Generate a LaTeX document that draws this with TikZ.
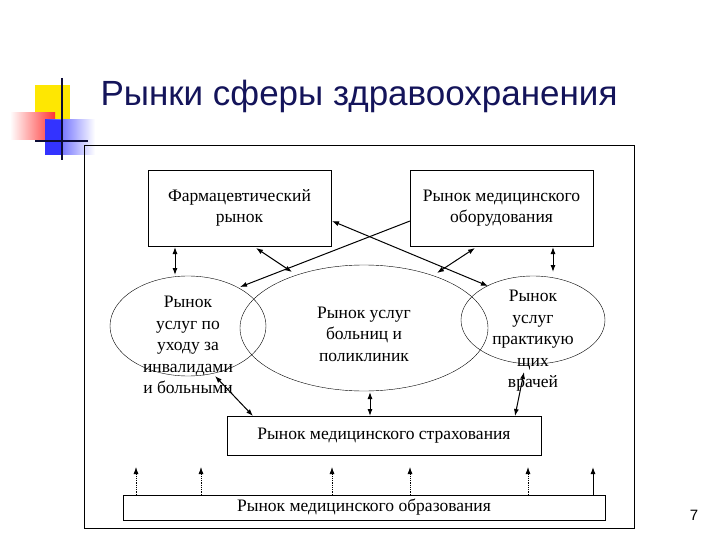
\documentclass[tikz,border=0pt]{standalone}
\usepackage{fontspec}
\setmainfont{Liberation Serif}
\newfontfamily\titlefont{Liberation Sans}
\usetikzlibrary{arrows.meta,shapes.geometric}
\definecolor{navy}{RGB}{20,20,90}
\begin{document}
\begin{tikzpicture}[x=1pt,y=-1pt,
  box/.style={draw,thin,inner sep=0pt},
  ell/.style={draw,thin,ellipse,inner sep=0pt},
  txt/.style={font=\fontsize{17.5}{21.5}\selectfont,align=center},
  dbl/.style={{Latex[length=7pt,width=5pt]}-{Latex[length=7pt,width=5pt]},line width=1pt},
  sgl/.style={-{Latex[length=7pt,width=5pt]},line width=1pt},
  dot/.style={-{Latex[length=7pt,width=5pt]},densely dotted,line width=0.8pt}]
\useasboundingbox (0,0) rectangle (720,540);
\fill[white] (0,0) rectangle (720,540);
% logo
\fill[yellow!90!orange] (35,85) rectangle (70,122);
\shade[left color=white,right color=red!80] (10,113) rectangle (55,140);
\shade[left color=blue!80,right color=white] (45,120) rectangle (95,155);
\fill[blue!80] (45,120) rectangle (62,155);
\draw[line width=1.5pt,navy!60!black] (62,78) -- (62,160);
\draw[line width=1.5pt,navy!60!black] (35,141) -- (88,141);
\node[anchor=west,font=\titlefont\fontsize{35}{40}\selectfont,text=navy] (title) at (97,96) {Рынки сферы здравоохранения};
% frame
\draw[thin] (84,145) rectangle (634,528);
% boxes
\node[box,minimum width=183,minimum height=76,txt] (ph) at (239.5,208) {Фармацевтический\\рынок};
\node[box,minimum width=183,minimum height=76,txt] (eq) at (501.5,208) {Рынок медицинского\\оборудования};
\node[ell,minimum width=248,minimum height=126] (mid) at (364,328) {};
\node[txt] at (364,334) {Рынок услуг\\больниц и\\поликлиник};
\node[ell,minimum width=156,minimum height=100] (le) at (188,326) {};
\node[txt] at (188,345) {Рынок\\услуг по\\уходу за\\инвалидами\\и больными};
\node[ell,minimum width=144,minimum height=88] (re) at (533,320) {};
\node[txt] at (533,341) {Рынок\\услуг\\практикую\\щих\\врачей};
\node[box,minimum width=314,minimum height=39,txt] (ins) at (384,435.5) {Рынок медицинского страхования};
\node[box,minimum width=482,minimum height=25,txt] (edu) at (364,507.5) {Рынок медицинского образования};
% arrows
\coordinate (a1) at (175,247); \coordinate (b1) at (175,275);
\draw[dbl] (a1) -- (b1);
\coordinate (a2) at (553,247); \coordinate (b2) at (553,272);
\draw[dbl] (a2) -- (b2);
\coordinate (a3) at (256,248); \coordinate (b3) at (292,272);
\draw[dbl] (a3) -- (b3);
\coordinate (a4) at (410,221); \coordinate (b4) at (240,287);
\draw[sgl] (a4) -- (b4);
\coordinate (a5) at (332,221); \coordinate (b5) at (488,286);
\draw[dbl] (a5) -- (b5);
\coordinate (a6) at (475,248); \coordinate (b6) at (437,273);
\draw[dbl] (a6) -- (b6);
\coordinate (a7) at (215,376); \coordinate (b7) at (253,416);
\draw[dbl] (a7) -- (b7);
\coordinate (a8) at (370,392); \coordinate (b8) at (370,416);
\draw[dbl] (a8) -- (b8);
\coordinate (a9) at (524,372); \coordinate (b9) at (515,416);
\draw[dbl] (a9) -- (b9);
% education arrows
\foreach \x/\s in {136/dot,201/dot,332/dot,410/dot,528/dot,593/sgl}{
  \coordinate (e\x) at (\x,495); \coordinate (f\x) at (\x,467);
  \draw[\s] (e\x) -- (f\x);}
\node[font=\titlefont\fontsize{15}{18}\selectfont] (pg) at (694,515) {7};
\end{tikzpicture}
\end{document}
